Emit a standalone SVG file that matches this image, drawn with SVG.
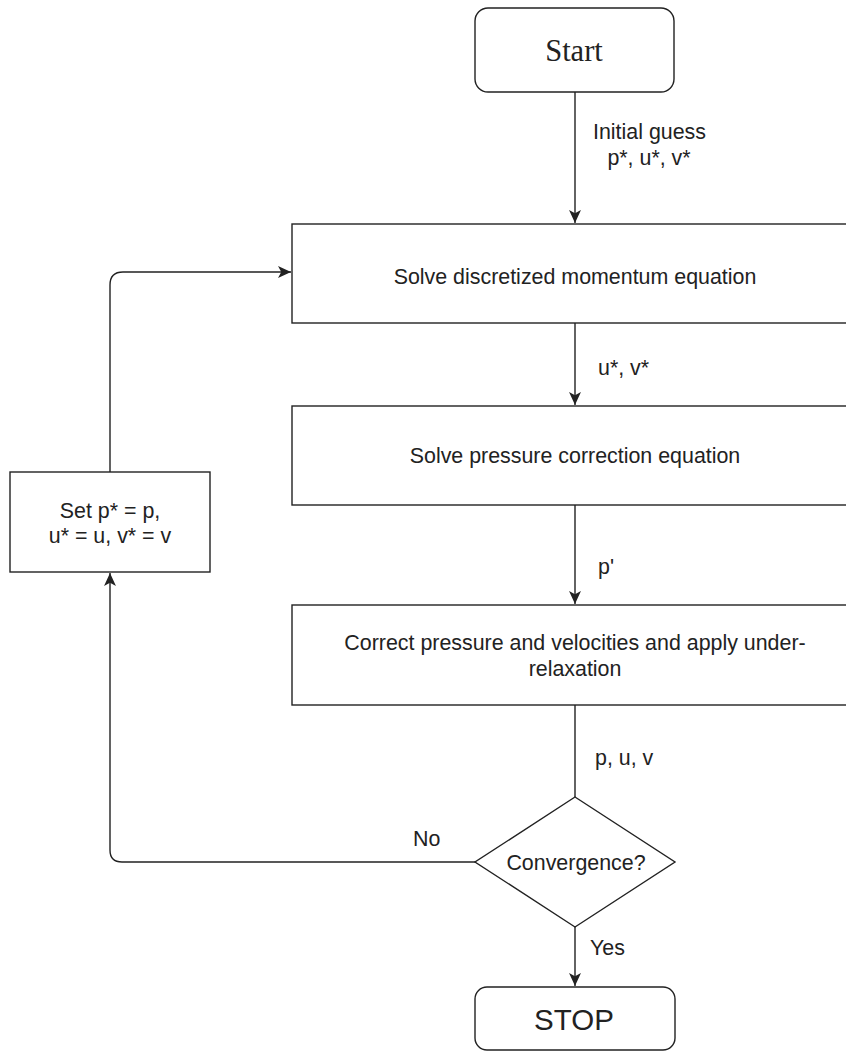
<svg xmlns="http://www.w3.org/2000/svg" width="846" height="1052" viewBox="0 0 846 1052">
<style>
.box{fill:#fff;stroke:#222;stroke-width:1.4}
.t{font-family:"Liberation Sans",Arial,sans-serif;font-size:21.4px;fill:#222;text-anchor:middle}
.tl{font-family:"Liberation Sans",Arial,sans-serif;font-size:21.4px;fill:#222;text-anchor:start}
.edge{fill:none;stroke:#222;stroke-width:1.4}
</style>
<defs>
<marker id="arr" viewBox="0 0 12 12" refX="12" refY="6" markerWidth="13" markerHeight="13" markerUnits="userSpaceOnUse" orient="auto">
<path d="M0,0.5 L12,6 L0,11.5 L3,6 Z" fill="#222"/>
</marker>
</defs>
<rect width="846" height="1052" fill="#fff"/>
<g id="connectors">
<path class="edge" d="M575,92 V223" marker-end="url(#arr)"/>
<path class="edge" d="M575,323 V405" marker-end="url(#arr)"/>
<path class="edge" d="M575,505 V604" marker-end="url(#arr)"/>
<path class="edge" d="M575,705 V797"/>
<path class="edge" d="M575,927 V986" marker-end="url(#arr)"/>
<path class="edge" d="M475,862 H122 Q110,862 110,850 V573" marker-end="url(#arr)"/>
<path class="edge" d="M110,472 V285 Q110,272 123,272 H291" marker-end="url(#arr)"/>
<text class="tl" x="593" y="139">Initial guess</text>
<text class="t" x="649" y="165">p*, u*, v*</text>
<text class="tl" x="598" y="375">u*, v*</text>
<text class="tl" x="598" y="574">p'</text>
<text class="tl" x="595" y="765">p, u, v</text>
<text class="tl" x="413" y="846">No</text>
<text class="tl" x="590" y="955">Yes</text>
</g>
<g id="start">
<rect class="box" x="475" y="8" width="199" height="84" rx="13"/>
<text x="574" y="61" style="font-family:'Liberation Serif','Times New Roman',serif;font-size:30.5px;fill:#222;text-anchor:middle">Start</text>
</g>
<g id="momentum">
<rect class="box" x="292" y="224" width="566" height="99"/>
<text class="t" x="575" y="284">Solve discretized momentum equation</text>
</g>
<g id="pressure">
<rect class="box" x="292" y="406" width="566" height="99"/>
<text class="t" x="575" y="463">Solve pressure correction equation</text>
</g>
<g id="correct">
<rect class="box" x="292" y="605" width="566" height="100"/>
<text class="t" x="575" y="650">Correct pressure and velocities and apply under-</text>
<text class="t" x="575" y="676">relaxation</text>
</g>
<g id="setp">
<rect class="box" x="10" y="472" width="200" height="100"/>
<text class="t" x="110" y="518">Set p* = p,</text>
<text class="t" x="110" y="543">u* = u, v* = v</text>
</g>
<g id="convergence">
<polygon class="box" points="575,797 675,862 575,927 475,862"/>
<text class="t" x="576" y="870">Convergence?</text>
</g>
<g id="stop">
<rect class="box" x="475" y="987" width="200" height="63" rx="12"/>
<text x="574" y="1030" style="font-family:'Liberation Sans',Arial,sans-serif;font-size:29.5px;fill:#222;text-anchor:middle">STOP</text>
</g>
</svg>
